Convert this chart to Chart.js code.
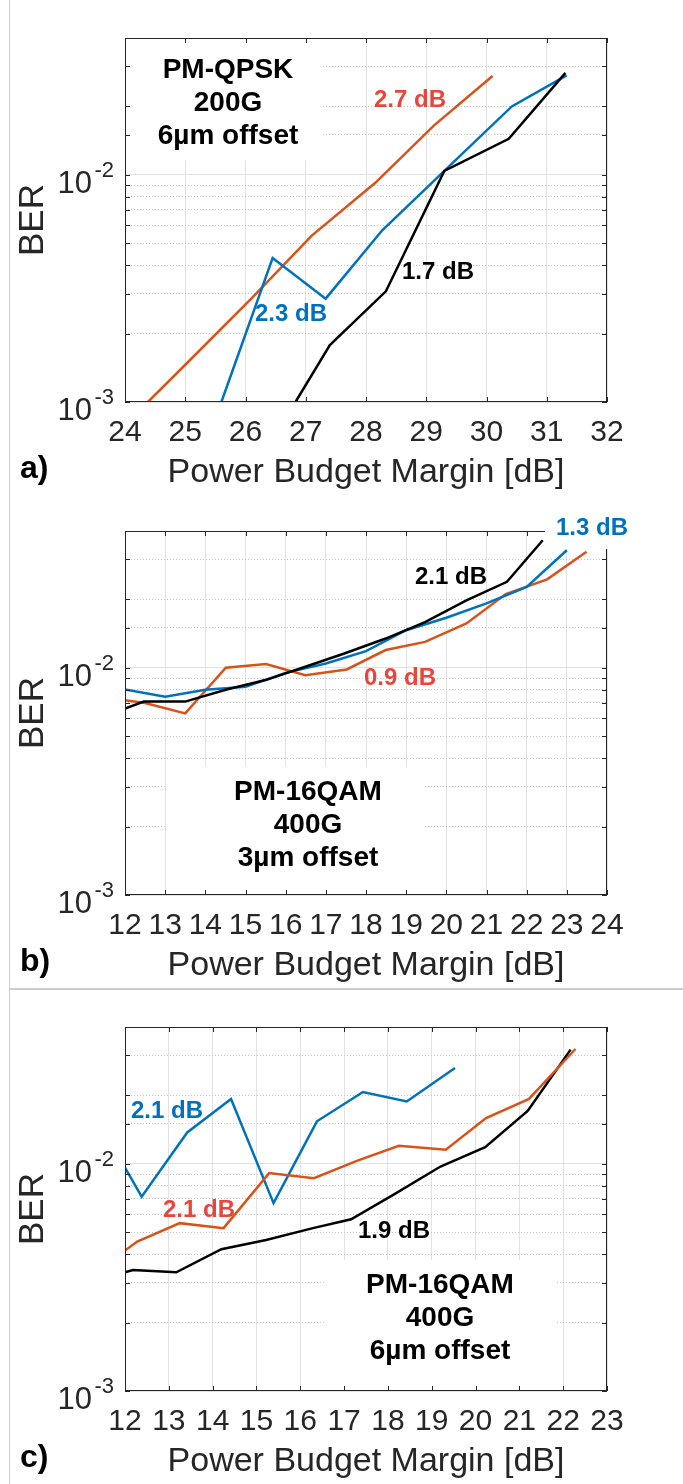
<!DOCTYPE html>
<html lang="en">
<head>
<meta charset="UTF-8">
<title>BER vs Power Budget Margin</title>
<script src="https://cdn.jsdelivr.net/npm/chart.js@4"></script>
<style>
  body { margin: 0; background: #fff; }
  .wrap { position: relative; width: 683px; height: 1484px; overflow: hidden; }
  .wrap canvas { position: absolute; left: 0; }
  .vline { position: absolute; left: 9px; top: 0; width: 1px; height: 1484px; background: #cccccc; }
  .hline { position: absolute; left: 9px; top: 988px; width: 674px; height: 2px; background: #cccccc; }
</style>
</head>
<body>
<div class="wrap">
  <canvas id="chartA" width="683" height="493" style="top:0"></canvas>
  <canvas id="chartB" width="683" height="493" style="top:493px"></canvas>
  <canvas id="chartC" width="683" height="493" style="top:989px"></canvas>
  <div class="vline"></div>
  <div class="hline"></div>
</div>
<script>
// a) PM-QPSK 200G, 6um offset
const aXRange = [24, 32];
const aOrangeX = [24.38, 25.1, 26.1, 27.1, 28.15, 29.13, 30.1];
const aOrangeY = [0.0010, 0.00155, 0.00286, 0.0054, 0.0092, 0.0165, 0.0272];
const aBlueX = [25.6, 26.45, 27.33, 28.27, 29.3, 30.42, 31.33];
const aBlueY = [0.0010, 0.0043, 0.00285, 0.0057, 0.0104, 0.0200, 0.0274];
const aBlackX = [26.83, 27.4, 28.33, 29.3, 30.37, 31.31];
const aBlackY = [0.0010, 0.00178, 0.00307, 0.0104, 0.0144, 0.0281];

// b) PM-16QAM 400G, 3um offset
const bXRange = [12, 24];
const bBlackX = [12, 12.47, 13.5, 14.53, 15.5, 16.49, 17.46, 18.49, 19.47, 20.5, 21.51, 22.4];
const bBlackY = [0.00662, 0.0071, 0.0071, 0.00803, 0.00883, 0.0101, 0.01156, 0.01345, 0.0159, 0.0198, 0.0239, 0.0364];
const bBlueX = [12, 13, 14, 15, 16, 17, 18, 19, 20, 21, 22, 23];
const bBlueY = [0.00803, 0.00746, 0.0080, 0.00825, 0.0095, 0.01045, 0.01183, 0.01463, 0.0166, 0.0192, 0.0227, 0.0329];
const bOrangeX = [12, 12.5, 13.5, 14.51, 15.51, 16.49, 17.52, 18.49, 19.47, 20.5, 21.48, 22.51, 23.49];
const bOrangeY = [0.0072, 0.0070, 0.0063, 0.0100, 0.01038, 0.00928, 0.00983, 0.01197, 0.0130, 0.01567, 0.0211, 0.0245, 0.0324];

// c) PM-16QAM 400G, 6um offset
const cXRange = [12, 23];
const cBlueX = [12, 12.38, 13.42, 14.42, 15.39, 16.38, 17.43, 18.43, 19.53];
const cBlueY = [0.00963, 0.00717, 0.01374, 0.0193, 0.00671, 0.01538, 0.0207, 0.0188, 0.0264];
const cOrangeX = [12, 12.28, 13.25, 14.25, 15.29, 16.31, 17.29, 18.25, 19.32, 20.24, 21.22, 22.28];
const cOrangeY = [0.00415, 0.00455, 0.00548, 0.00521, 0.0091, 0.00864, 0.0103, 0.0120, 0.01152, 0.0159, 0.0193, 0.0320];
const cBlackX = [12, 12.18, 13.17, 14.2, 15.22, 16.29, 17.16, 18.15, 19.2, 20.22, 21.19, 22.17];
const cBlackY = [0.00333, 0.00341, 0.00333, 0.00421, 0.00462, 0.00521, 0.0057, 0.00735, 0.00973, 0.01183, 0.0171, 0.0318];

const berRange = [0.001, 0.04];

const FONT = '"Liberation Sans", Arial, Helvetica, sans-serif';
const AXIS = '#262626';
const GRID = '#e2e2e2';
const MINOR = '#c4c4c4';
const BLUE = '#0072BD', ORANGE = '#D95319', BLACK = '#000000', RED = '#E8453C';

const isDecade = v => Math.abs(Math.log10(v) - Math.round(Math.log10(v))) < 1e-9;

function series(xs, ys, color) {
    return {
        data: xs.map((x, i) => ({ x: x, y: ys[i] })),
        borderColor: color,
        borderWidth: 2.5,
        pointRadius: 0,
        tension: 0,
        fill: false
    };
}

// frame, inward ticks, 10^n labels and the text notes
const panelDecor = {
    id: 'panelDecor',
    beforeDatasetsDraw(chart, args, opts) {
        const ctx = chart.ctx;
        ctx.save();
        ctx.fillStyle = '#fff';
        opts.boxes.forEach(b => ctx.fillRect(b[0], b[1], b[2], b[3]));
        ctx.restore();
    },
    afterDatasetsDraw(chart, args, opts) {
        const { ctx, chartArea: a, scales } = chart;
        const xs = scales.x, ys = scales.y;
        ctx.save();
        ctx.strokeStyle = AXIS;
        ctx.lineWidth = 1;
        ctx.strokeRect(a.left + 0.5, a.top + 0.5, a.right - a.left - 1, a.bottom - a.top - 1);

        ctx.beginPath();
        xs.ticks.forEach(t => {
            const p = Math.round(xs.getPixelForValue(t.value)) + 0.5;
            ctx.moveTo(p, a.bottom); ctx.lineTo(p, a.bottom - 5);
            ctx.moveTo(p, a.top); ctx.lineTo(p, a.top + 5);
        });
        ys.ticks.forEach(t => {
            const p = Math.round(ys.getPixelForValue(t.value)) + 0.5;
            ctx.moveTo(a.left, p); ctx.lineTo(a.left + 5, p);
            ctx.moveTo(a.right, p); ctx.lineTo(a.right - 5, p);
        });
        ctx.stroke();

        ctx.fillStyle = AXIS;
        ctx.textAlign = 'right';
        ctx.textBaseline = 'alphabetic';
        ys.ticks.forEach(t => {
            if (!isDecade(t.value)) return;
            const p = ys.getPixelForValue(t.value);
            ctx.font = '31px ' + FONT;
            ctx.fillText('10', a.left - 33, p + 18);
            ctx.font = '22px ' + FONT;
            ctx.fillText(String(Math.round(Math.log10(t.value))), a.left - 11, p + 2);
        });

        if (opts.cover) {
            ctx.fillStyle = '#fff';
            ctx.fillRect(opts.cover[0], opts.cover[1], opts.cover[2], opts.cover[3]);
        }

        opts.notes.forEach(n => {
            ctx.font = 'bold ' + n.size + 'px ' + FONT;
            ctx.fillStyle = n.color;
            ctx.textAlign = n.align;
            n.lines.forEach((line, i) => ctx.fillText(line, n.x, n.y + i * 33));
        });

        ctx.font = 'bold 32px ' + FONT;
        ctx.fillStyle = '#000';
        ctx.textAlign = 'left';
        ctx.fillText(opts.letter, 20, 478);
        ctx.restore();
    }
};

function makePanel(id, xRange, datasets, decor) {
    new Chart(document.getElementById(id), {
        type: 'line',
        data: { datasets: datasets },
        plugins: [panelDecor],
        options: {
            responsive: false,
            animation: false,
            layout: { padding: { top: 38, right: 76, left: 0, bottom: 0 }, autoPadding: false },
            plugins: { legend: { display: false }, tooltip: { enabled: false }, panelDecor: decor },
            scales: {
                x: {
                    type: 'linear', min: xRange[0], max: xRange[1],
                    ticks: { stepSize: 1, autoSkip: false, maxRotation: 0, padding: 13, color: AXIS, font: { family: FONT, size: 30 } },
                    grid: { color: GRID, drawTicks: false },
                    border: { display: false },
                    title: { display: true, text: 'Power Budget Margin [dB]', color: AXIS, font: { family: FONT, size: 34 }, padding: 0 },
                    afterFit: s => { s.height = 91; }
                },
                y: {
                    type: 'logarithmic', min: berRange[0], max: berRange[1],
                    ticks: { display: false },
                    grid: { color: c => isDecade(c.tick.value) ? GRID : 'transparent', drawTicks: false },
                    border: { display: false },
                    title: { display: true, text: 'BER', color: AXIS, font: { family: FONT, size: 35 }, padding: { top: 12, bottom: 0 } },
                    afterFit: s => { s.width = 125; }
                },
                yMinor: {
                    type: 'logarithmic', position: 'left', min: berRange[0], max: berRange[1],
                    ticks: { display: false },
                    grid: { color: c => isDecade(c.tick.value) ? 'transparent' : MINOR, drawTicks: false },
                    border: { display: false, dash: [1, 2] },
                    afterFit: s => { s.width = 0; }
                }
            }
        }
    });
}

makePanel('chartA', aXRange, [
    series(aBlackX, aBlackY, BLACK),
    series(aBlueX, aBlueY, BLUE),
    series(aOrangeX, aOrangeY, ORANGE)
], {
    letter: 'a)',
    boxes: [[126, 39, 197, 121]],
    notes: [
        { lines: ['PM-QPSK', '200G', '6\u00b5m offset'], x: 228, y: 78, size: 28, color: '#000', align: 'center' },
        { lines: ['2.7 dB'], x: 374, y: 107, size: 24, color: RED, align: 'left' },
        { lines: ['2.3 dB'], x: 255, y: 321, size: 24, color: BLUE, align: 'left' },
        { lines: ['1.7 dB'], x: 402, y: 279, size: 24, color: BLACK, align: 'left' }
    ]
});

makePanel('chartB', bXRange, [
    series(bBlackX, bBlackY, BLACK),
    series(bBlueX, bBlueY, BLUE),
    series(bOrangeX, bOrangeY, ORANGE)
], {
    letter: 'b)',
    boxes: [[166, 274, 259, 127]],
    cover: [545, 20, 100, 36],
    notes: [
        { lines: ['PM-16QAM', '400G', '3\u00b5m offset'], x: 308, y: 307, size: 28, color: '#000', align: 'center' },
        { lines: ['2.1 dB'], x: 415, y: 91, size: 24, color: BLACK, align: 'left' },
        { lines: ['1.3 dB'], x: 556, y: 42, size: 24, color: BLUE, align: 'left' },
        { lines: ['0.9 dB'], x: 364, y: 192, size: 24, color: RED, align: 'left' }
    ]
});

makePanel('chartC', cXRange, [
    series(cOrangeX, cOrangeY, ORANGE),
    series(cBlackX, cBlackY, BLACK),
    series(cBlueX, cBlueY, BLUE)
], {
    letter: 'c)',
    boxes: [[325, 271, 231, 130]],
    notes: [
        { lines: ['PM-16QAM', '400G', '6\u00b5m offset'], x: 440, y: 304, size: 28, color: '#000', align: 'center' },
        { lines: ['2.1 dB'], x: 131, y: 129, size: 24, color: BLUE, align: 'left' },
        { lines: ['2.1 dB'], x: 163, y: 228, size: 24, color: RED, align: 'left' },
        { lines: ['1.9 dB'], x: 358, y: 249, size: 24, color: BLACK, align: 'left' }
    ]
});
</script>
</body>
</html>
